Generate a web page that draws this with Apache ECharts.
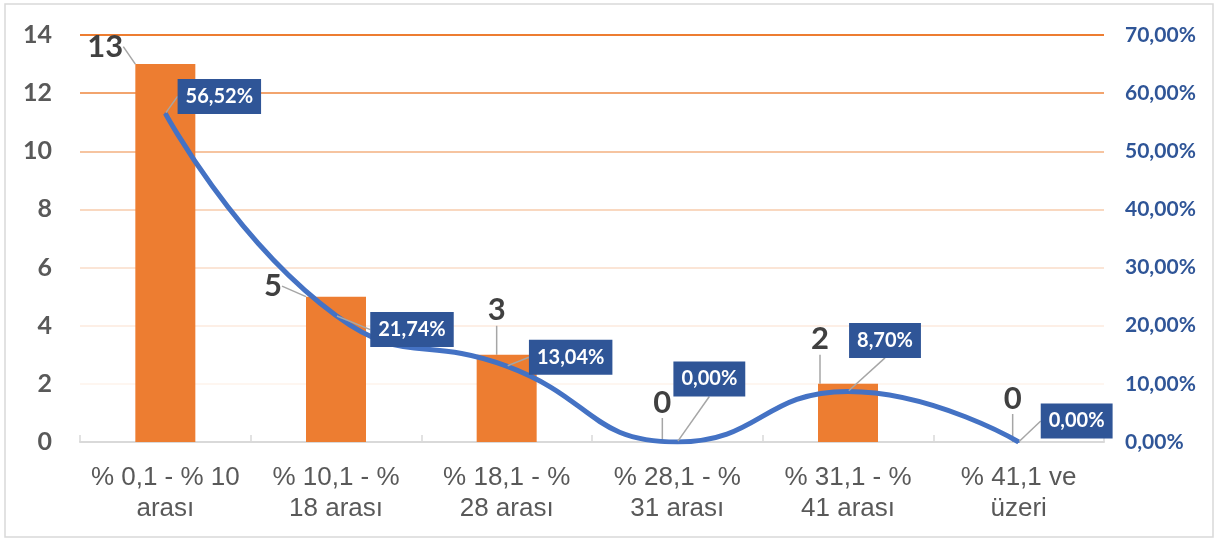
<!DOCTYPE html>
<html>
<head>
<meta charset="utf-8">
<script src="https://cdn.jsdelivr.net/npm/echarts@6/dist/echarts.min.js"></script>
<style>
	html, body { margin: 0; padding: 0; background: #fff; }
	#chart { width: 1219px; height: 540px; }
</style>
</head>
<body>
<div id="chart"></div>
<script>
var categories = ['% 0,1 - % 10\narası', '% 10,1 - %\n18 arası', '% 18,1 - %\n28 arası', '% 28,1 - %\n31 arası', '% 31,1 - %\n41 arası', '% 41,1 ve\nüzeri'];
var counts = [13, 5, 3, 0, 2, 0];
var percents = [56.52, 21.74, 13.04, 0, 8.70, 0];

// label offsets (px), kept apart from the data
var barLabelShift = [[-60, -2], [-63, 5], [-10, -29], [-15, -24], [-28, -29], [-6, -28]];
var lineLabelShift = [[54, -17], [76, 14], [64, -9], [32, -63], [37, -51], [58, -21]];

// gridlines fade from the top one down (0 -> 14)
var gridColors = ['#d9d9d9', '#fef6f0', '#fdefe6', '#fbe5d6', '#f9d8c0', '#f6c4a0', '#f2a46e', '#ed7d31'];

function pct(v) {
	return v.toFixed(2).replace('.', ',') + '%';
}

var myChart = echarts.init(document.getElementById('chart'));

var option = {
	animation: false,
	grid: {
		left: 80,
		right: 115,
		top: 35,
		bottom: 98
	},
	graphic: [{
		type: 'rect',
		shape: { x: 5, y: 4, width: 1208, height: 533 },
		style: { fill: 'none', stroke: '#d9d9d9', lineWidth: 1.5 },
		silent: true
	}],
	xAxis: {
		type: 'category',
		data: categories,
		axisLine: { lineStyle: { color: '#d9d9d9', width: 2 } },
		axisTick: { show: true, inside: true, interval: 0, length: 7, lineStyle: { color: '#d9d9d9', width: 1.5 } },
		axisLabel: {
			interval: 0,
			hideOverlap: false,
			color: '#595959',
			fontSize: 26,
			fontFamily: 'Liberation Sans',
			lineHeight: 31,
			margin: 20
		}
	},
	yAxis: [{
		type: 'value',
		min: 0,
		max: 14,
		interval: 2,
		axisLine: { show: false },
		axisTick: { show: false },
		axisLabel: {
			color: '#595959',
			fontSize: 25,
			fontWeight: 'bold',
			fontFamily: 'Lato',
			margin: 28
		},
		splitLine: {
			show: true,
			lineStyle: { color: gridColors, width: 2 }
		}
	}, {
		type: 'value',
		min: 0,
		max: 70,
		interval: 10,
		axisLine: { show: false },
		axisTick: { show: false },
		splitLine: { show: false },
		axisLabel: {
			color: '#2f5597',
			fontSize: 21,
			fontWeight: 'bold',
			fontFamily: 'Lato',
			margin: 21,
			formatter: function(v) {
				return pct(v);
			}
		}
	}],
	series: [{
		name: 'Sayı',
		type: 'bar',
		data: counts,
		barWidth: 60,
		itemStyle: { color: '#ed7d31' },
		label: {
			show: true,
			position: 'top',
			distance: 0,
			color: '#404040',
			fontSize: 31,
			fontWeight: 'bold',
			fontFamily: 'Lato'
		},
		labelLine: {
			show: true,
			lineStyle: { color: '#a6a6a6', width: 1.5 }
		},
		labelLayout: function(params) {
			var s = barLabelShift[params.dataIndex];
			return { dx: s[0], dy: s[1] };
		},
		z: 2
	}, {
		name: 'Oran',
		type: 'line',
		yAxisIndex: 1,
		data: percents,
		smooth: 0.5,
		symbol: 'circle',
		symbolSize: 2,
		lineStyle: { color: '#4472c4', width: 5 },
		itemStyle: { color: '#4472c4' },
		label: {
			show: true,
			position: 'inside',
			backgroundColor: '#2f5597',
			color: '#fff',
			fontSize: 20,
			fontWeight: 'bold',
			fontFamily: 'Lato',
			padding: [8, 8, 7, 8],
			formatter: function(p) {
				return pct(p.value);
			}
		},
		labelLine: {
			show: true,
			lineStyle: { color: '#a6a6a6', width: 1.5 }
		},
		labelLayout: function(params) {
			var s = lineLabelShift[params.dataIndex];
			return { dx: s[0], dy: s[1] };
		},
		z: 5
	}]
};

myChart.setOption(option);
</script>
</body>
</html>
